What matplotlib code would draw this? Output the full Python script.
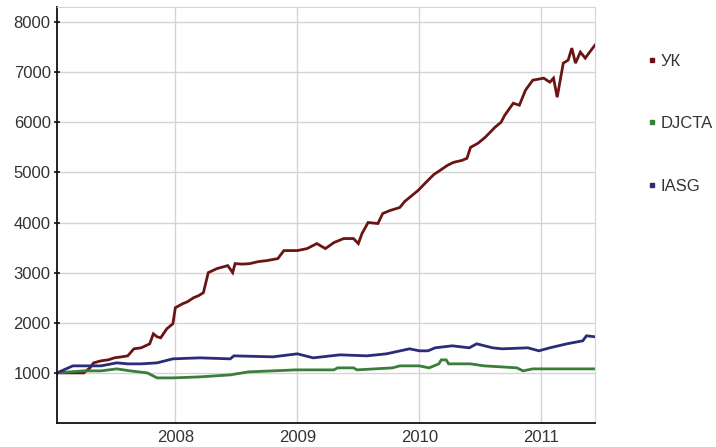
"""
Equity curves: UK vs DJCTA vs IASG
"""
import matplotlib
matplotlib.use('Agg')
import matplotlib.pyplot as plt
from matplotlib.lines import Line2D

plt.rcParams['font.family'] = ['Liberation Sans', 'DejaVu Sans']

# UK  (year fraction, value)
uk_t = [2007.03, 2007.25, 2007.30, 2007.33, 2007.39, 2007.45, 2007.50, 2007.56, 2007.61, 2007.66,
        2007.72, 2007.79, 2007.82, 2007.85, 2007.88, 2007.93, 2007.98, 2008.00, 2008.06, 2008.10,
        2008.15, 2008.19, 2008.23, 2008.27, 2008.34, 2008.40, 2008.43, 2008.47, 2008.49, 2008.55,
        2008.61, 2008.68, 2008.75, 2008.84, 2008.89, 2009.00, 2009.08, 2009.16, 2009.23, 2009.30,
        2009.38, 2009.46, 2009.50, 2009.53, 2009.58, 2009.66, 2009.70, 2009.76, 2009.84, 2009.88,
        2009.92, 2009.99, 2010.03, 2010.07, 2010.12, 2010.17, 2010.23, 2010.28, 2010.35, 2010.39,
        2010.42, 2010.48, 2010.54, 2010.58, 2010.62, 2010.67, 2010.70, 2010.77, 2010.82, 2010.87,
        2010.93, 2011.02, 2011.07, 2011.10, 2011.13, 2011.18, 2011.22, 2011.25, 2011.28, 2011.32,
        2011.36, 2011.39, 2011.44]
uk_v = [1000, 1000, 1100, 1200, 1240, 1260, 1300, 1320, 1340, 1480,
        1500, 1580, 1780, 1720, 1700, 1880, 1980, 2300, 2380, 2420,
        2500, 2540, 2600, 3000, 3080, 3120, 3140, 3000, 3180, 3170,
        3180, 3220, 3240, 3280, 3440, 3440, 3480, 3580, 3480, 3600,
        3680, 3680, 3580, 3780, 4000, 3980, 4180, 4240, 4300, 4420,
        4500, 4640, 4740, 4840, 4960, 5040, 5140, 5200, 5240, 5280,
        5500, 5580, 5700, 5800, 5900, 6000, 6140, 6380, 6340, 6640,
        6840, 6880, 6800, 6880, 6500, 7180, 7240, 7480, 7180, 7400,
        7280, 7380, 7540]

# DJCTA
dj_t = [2007.03, 2007.25, 2007.39, 2007.52, 2007.63, 2007.77, 2007.85, 2007.98, 2008.20,
        2008.45, 2008.60, 2008.99, 2009.30, 2009.33, 2009.46, 2009.49, 2009.78, 2009.84,
        2010.00, 2010.08, 2010.16, 2010.18, 2010.22, 2010.24, 2010.42, 2010.53, 2010.67,
        2010.80, 2010.85, 2010.93, 2011.10, 2011.44]
dj_v = [1000, 1040, 1040, 1080, 1040, 1000, 900, 900, 920,
        960, 1020, 1060, 1060, 1100, 1100, 1060, 1100, 1140,
        1140, 1100, 1180, 1260, 1260, 1180, 1180, 1140, 1120,
        1100, 1040, 1080, 1080, 1080]

# IASG
ia_t = [2007.03, 2007.16, 2007.39, 2007.52, 2007.61, 2007.72, 2007.85, 2007.98, 2008.20,
        2008.45, 2008.48, 2008.80, 2009.00, 2009.13, 2009.35, 2009.57, 2009.73, 2009.92,
        2010.00, 2010.07, 2010.13, 2010.27, 2010.41, 2010.47, 2010.60, 2010.68, 2010.89,
        2010.98, 2011.07, 2011.21, 2011.34, 2011.37, 2011.44]
ia_v = [1000, 1140, 1140, 1200, 1180, 1180, 1200, 1280, 1300,
        1280, 1340, 1320, 1380, 1300, 1360, 1340, 1380, 1480,
        1440, 1440, 1500, 1540, 1500, 1580, 1500, 1480, 1500,
        1440, 1500, 1580, 1640, 1740, 1720]

series = ['УК', 'DJCTA', 'IASG']
colors = ['#6b1414', '#3b7d3b', '#2b2b78']
year_ticks = [2008, 2009, 2010, 2011]

fig = plt.figure(figsize=(7.16, 4.47), dpi=100)
ax = fig.add_axes([57 / 716, 24 / 447, 538 / 716, 416 / 447])

for (t, v), c in zip([(uk_t, uk_v), (dj_t, dj_v), (ia_t, ia_v)], colors):
    ax.plot(t, v, color=c, linewidth=2.0, drawstyle='default', solid_joinstyle='miter')

ax.set_xlim(2007.03, 2011.44)
ax.set_ylim(0, 8300)
ax.set_yticks(range(1000, 8001, 1000))
ax.set_xticks(year_ticks)
ax.set_xticklabels([str(y) for y in year_ticks])

ax.grid(True, color='#d4d4d4', linewidth=1.0)
ax.set_axisbelow(True)
for side in ['top', 'right']:
    ax.spines[side].set_color('#d4d4d4')
for side in ['left', 'bottom']:
    ax.spines[side].set_color('#111111')
    ax.spines[side].set_linewidth(1.3)

ax.tick_params(axis='y', direction='inout', length=5, width=1.2, colors='#111111',
               labelcolor='#333333', labelsize=12, pad=2)
ax.tick_params(axis='x', length=0, labelcolor='#333333', labelsize=12, pad=5)

# legend
handles = [Line2D([0], [0], marker='s', linestyle='none', markersize=3.5,
                  markerfacecolor=c, markeredgecolor=c) for c in colors]
fig.legend(handles, series, loc='upper left', bbox_to_anchor=(637 / 716, 1 - 47 / 447),
           frameon=False, fontsize=12, labelspacing=2.85, handletextpad=0.0,
           handlelength=1.0, labelcolor='#333333', borderaxespad=0.0)

fig.savefig('out.png', dpi=100)
